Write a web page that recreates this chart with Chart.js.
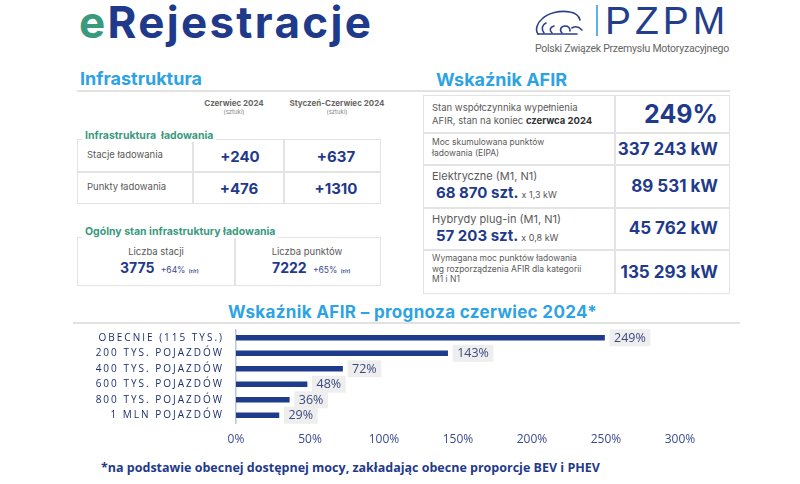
<!DOCTYPE html>
<html lang="pl">
<head>
<meta charset="utf-8">
<script src="https://cdn.jsdelivr.net/npm/chart.js@4.4.1/dist/chart.umd.min.js"></script>
<style>
    html, body { margin: 0; padding: 0; background: #fff; }
    body { width: 800px; height: 484px; position: relative; overflow: hidden; font-family: Inter, "Open Sans", sans-serif; }
    .abs { position: absolute; white-space: nowrap; }
    .grey { color: #5a5a5a; }
    .head { color: #2ea3e3; font-weight: 700; font-size: 18px; line-height: 1; }
    .green { color: #3a9a7e; font-weight: 700; font-size: 10.5px; background: #fff; padding: 0 3px; line-height: 12px; }
    .rule { position: absolute; height: 2px; background: #e2e2e2; }
    .box { position: absolute; border: 1.5px solid #e3e3e3; box-sizing: border-box; }
    .vl { position: absolute; width: 1.5px; background: #e3e3e3; }
    .hl { position: absolute; height: 1.5px; background: #e3e3e3; }
    .big { font-weight: 700; color: #1f3a8a; }
    .c { transform: translateX(-50%); text-align: center; }
    .r { transform: translateX(-100%); text-align: right; }
    #chartWrap { position: absolute; left: 60px; top: 326px; width: 700px; height: 124px; }
</style>
</head>
<body>
    <!-- header -->
    <div class="abs" style="left:79px; top:0; font-size:44px; line-height:44px; font-weight:700; color:#1f3a8a; letter-spacing:2.3px;"><span style="color:#3a9a7e">e</span>Rejestracje</div>

    <svg class="abs" style="left:532px; top:6px" width="54" height="32" viewBox="0 0 54 32">
        <g fill="none" stroke="#2b3f8c" stroke-width="1.6" stroke-linecap="round">
            <path d="M6 28 C3 24 5 17 10 13 C16 7 28 4 38 6 C44 7 47 10 48 14"/>
            <path d="M12 27 C9 23 10 19 14 17"/>
            <path d="M20 27 C17 24 18 21 22 20"/>
            <path d="M30 27 C27 24 29 20 33 20 C36 20 38 22 38 25"/>
            <path d="M40 22 C43 20 47 21 50 24"/>
            <path d="M6 28 L45 28"/>
        </g>
    </svg>
    <div class="abs" style="left:596px; top:5px; width:1.5px; height:31px; background:#5bb4e5;"></div>
    <div class="abs" style="left:605px; top:1px; font-family:'Liberation Sans'; font-size:39px; line-height:39px; color:#233e8b; letter-spacing:4px;">PZPM</div>
    <div class="abs" style="left:535px; top:43px; font-family:Roboto; font-size:10.5px; line-height:12px; color:#666; letter-spacing:-0.25px;">Polski Związek Przemysłu Motoryzacyjnego</div>

    <!-- section heads -->
    <div class="abs head" style="left:80px; top:70px;">Infrastruktura</div>
    <div class="abs head" style="left:436px; top:71px;">Wskaźnik AFIR</div>
    <div class="rule" style="left:77px; top:90px; width:653px;"></div>

    <!-- Infrastruktura -->
    <div class="abs c" style="left:234px; top:98px; font-size:8px; font-weight:700; color:#666;">Czerwiec 2024</div>
    <div class="abs c" style="left:234px; top:108px; font-size:6px; color:#888;">(sztuki)</div>
    <div class="abs c" style="left:337px; top:98px; font-size:8px; font-weight:700; color:#666;">Styczeń-Czerwiec 2024</div>
    <div class="abs c" style="left:337px; top:108px; font-size:6px; color:#888;">(sztuki)</div>

    <div class="box" style="left:77px; top:139px; width:304px; height:65px;"></div>
    <div class="hl" style="left:77px; top:171px; width:304px;"></div>
    <div class="vl" style="left:192px; top:139px; height:65px;"></div>
    <div class="vl" style="left:283px; top:139px; height:65px;"></div>
    <div class="abs green" style="left:82px; top:130px;">Infrastruktura&nbsp; ładowania</div>
    <div class="abs grey" style="left:87px; top:149px; font-size:9.5px;">Stacje ładowania</div>
    <div class="abs grey" style="left:87px; top:181px; font-size:9.5px;">Punkty ładowania</div>
    <div class="abs big c" style="left:240px; top:147px; font-size:15px;">+240</div>
    <div class="abs big c" style="left:336px; top:147px; font-size:15px;">+637</div>
    <div class="abs big c" style="left:239px; top:179px; font-size:15px;">+476</div>
    <div class="abs big c" style="left:336px; top:179px; font-size:15px;">+1310</div>

    <div class="box" style="left:77px; top:237px; width:304px; height:49px;"></div>
    <div class="vl" style="left:234px; top:237px; height:49px;"></div>
    <div class="abs green" style="left:82px; top:226px;">Ogólny stan infrastruktury ładowania</div>
    <div class="abs grey c" style="left:156px; top:246px; font-size:9.5px;">Liczba stacji</div>
    <div class="abs grey c" style="left:307px; top:246px; font-size:9.5px;">Liczba punktów</div>
    <div class="abs" style="left:120px; top:259px; font-size:14px; font-weight:700; color:#1f3a8a;">3775 <span style="font-size:8.5px; font-weight:400; color:#3b4b8f; margin-left:3px;">+64%</span> <span style="font-size:5px; color:#3b4b8f;">(r/r)</span></div>
    <div class="abs" style="left:272px; top:259px; font-size:14px; font-weight:700; color:#1f3a8a;">7222 <span style="font-size:8.5px; font-weight:400; color:#3b4b8f; margin-left:3px;">+65%</span> <span style="font-size:5px; color:#3b4b8f;">(r/r)</span></div>

    <!-- AFIR table -->
    <div class="box" style="left:423px; top:95px; width:307px; height:199px;"></div>
    <div class="vl" style="left:614px; top:95px; height:199px;"></div>
    <div class="hl" style="left:423px; top:132px; width:307px;"></div>
    <div class="hl" style="left:423px; top:164px; width:307px;"></div>
    <div class="hl" style="left:423px; top:207px; width:307px;"></div>
    <div class="hl" style="left:423px; top:249px; width:307px;"></div>

    <div class="abs grey" style="left:432px; top:101px; font-size:9.5px; line-height:13px;">Stan współczynnika wypełnienia<br>AFIR, stan na koniec <b style="color:#333">czerwca 2024</b></div>
    <div class="abs big c" style="left:681px; top:101px; font-size:25px; line-height:26px;">249%</div>

    <div class="abs grey" style="left:432px; top:137px; font-size:8.5px; line-height:10.5px;">Moc skumulowana punktów<br>ładowania (EIPA)</div>
    <div class="abs big r" style="left:718px; top:139px; font-size:17px; line-height:20px;">337 243 kW</div>

    <div class="abs grey" style="left:432px; top:169px; font-size:11px; line-height:14px;">Elektryczne (M1, N1)</div>
    <div class="abs" style="left:436px; top:184px; font-size:15px; line-height:18px; font-weight:700; color:#1f3a8a;">68 870 szt. <span style="font-size:9px; font-weight:400; color:#555;">x 1,3 kW</span></div>
    <div class="abs big r" style="left:718px; top:176px; font-size:17px; line-height:20px;">89 531 kW</div>

    <div class="abs grey" style="left:432px; top:212px; font-size:11px; line-height:14px;">Hybrydy plug-in (M1, N1)</div>
    <div class="abs" style="left:436px; top:227px; font-size:15px; line-height:18px; font-weight:700; color:#1f3a8a;">57 203 szt. <span style="font-size:9px; font-weight:400; color:#555;">x 0,8 kW</span></div>
    <div class="abs big r" style="left:718px; top:218px; font-size:17px; line-height:20px;">45 762 kW</div>

    <div class="abs grey" style="left:432px; top:253px; font-size:8.5px; line-height:10.5px;">Wymagana moc punktów ładowania<br>wg rozporządzenia AFIR dla kategorii<br>M1 i N1</div>
    <div class="abs big r" style="left:718px; top:262px; font-size:17px; line-height:20px;">135 293 kW</div>

    <!-- chart -->
    <div class="abs head" style="left:228px; top:304px; font-size:17px; letter-spacing:0.35px;">Wskaźnik AFIR – prognoza czerwiec 2024*</div>
    <div class="rule" style="left:73px; top:322px; width:667px;"></div>
    <div id="chartWrap"><canvas id="afirChart"></canvas></div>
    <div class="abs" style="left:101px; top:459px; font-family:'Open Sans'; font-size:12.5px; font-weight:700; color:#1f3a8a;">*na podstawie obecnej dostępnej mocy, zakładając obecne proporcje BEV i PHEV</div>

<script>
const categories = ['OBECNIE (115 TYS.)', '200 TYS. POJAZDÓW', '400 TYS. POJAZDÓW', '600 TYS. POJAZDÓW', '800 TYS. POJAZDÓW', '1 MLN POJAZDÓW'];
const afirValues = [249, 143, 72, 48, 36, 29];
const xTicks = [0, 50, 100, 150, 200, 250, 300];

// spaced caps on the category axis only; x tick labels sit on a later layer
const letterSpacing = {
    id: 'letterSpacing',
    beforeDraw: chart => { chart.ctx.letterSpacing = '2px'; },
    beforeDatasetsDraw: chart => { chart.ctx.letterSpacing = '0px'; }
};

// grey boxed value labels right of each bar
const valueBoxes = {
    id: 'valueBoxes',
    afterDatasetsDraw: chart => {
        const ctx = chart.ctx;
        const meta = chart.getDatasetMeta(0);
        ctx.save();
        ctx.font = '12.5px "Open Sans"';
        ctx.textBaseline = 'middle';
        meta.data.forEach((bar, i) => {
            const txt = afirValues[i] + '%';
            const w = ctx.measureText(txt).width + 9;
            const x = bar.x + 5;
            ctx.fillStyle = '#eeeeee';
            ctx.fillRect(x, bar.y - 8.5, w, 17);
            ctx.fillStyle = '#3a4a80';
            ctx.fillText(txt, x + 4.5, bar.y + 0.5);
        });
        ctx.restore();
    }
};

new Chart(document.getElementById('afirChart'), {
    type: 'bar',
    data: {
        labels: categories,
        datasets: [{
            data: afirValues,
            backgroundColor: '#1f3c8c',
            barThickness: 5
        }]
    },
    options: {
        indexAxis: 'y',
        responsive: true,
        maintainAspectRatio: false,
        animation: false,
        layout: { padding: { left: 0, top: 4, right: 80, bottom: 0 } },
        plugins: { legend: { display: false }, tooltip: { enabled: false } },
        scales: {
            x: {
                min: 0,
                max: 300,
                afterBuildTicks: scale => { scale.ticks = xTicks.map(v => ({ value: v })); },
                afterFit: scale => { scale.height = 27; },
                grid: { display: false, drawTicks: false },
                border: { display: false },
                ticks: {
                    z: 1,
                    color: '#3b4b8f',
                    padding: 9,
                    font: { family: '"Open Sans"', size: 12 },
                    callback: v => v + '%'
                }
            },
            y: {
                afterFit: scale => {
                    scale.width = 176;
                    scale.paddingTop = 0;
                    scale.paddingBottom = 0;
                },
                grid: { display: false, drawTicks: false },
                border: { display: true, color: '#b4c6e7', width: 1.5 },
                ticks: {
                    autoSkip: false,
                    color: '#1a2f6e',
                    padding: 12,
                    font: { family: '"Open Sans"', size: 10, weight: 500 }
                }
            }
        }
    },
    plugins: [letterSpacing, valueBoxes]
});
</script>
</body>
</html>
